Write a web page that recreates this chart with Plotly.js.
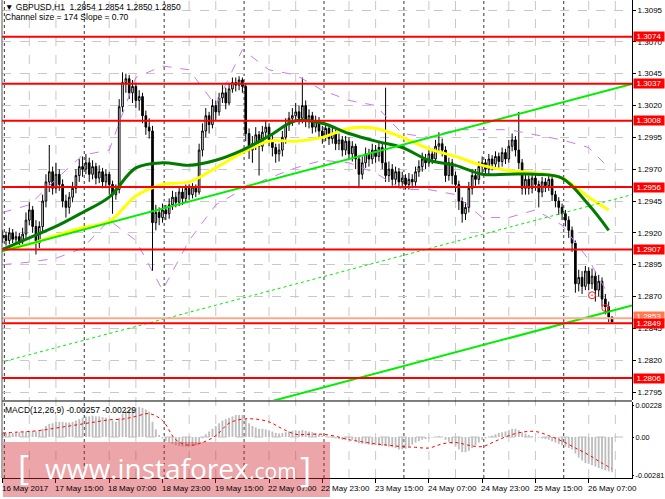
<!DOCTYPE html>
<html><head><meta charset="utf-8">
<script src="https://cdn.plot.ly/plotly-3.0.1.min.js"></script>
<style>html,body{margin:0;padding:0;background:#fff;}#chart{width:665px;height:499px;}</style>
</head><body><div id="chart"></div>
<script>
// ---- data (GBPUSD H1, 16 May 23:00 .. 26 May 14:00) ----
const firstOpen = 1.2916;
const closes = [
1.2918,1.2914,1.2920,1.2915,1.2917,1.2913,1.2919,1.2930,
1.2938,1.2925,1.2912,1.2925,1.2945,1.2960,1.2968,1.2955,
1.2966,1.2958,1.2945,1.2940,1.2948,1.2955,1.2965,1.2972,
1.2970,1.2975,1.2966,1.2972,1.2963,1.2968,1.2960,1.2966,
1.2958,1.2950,1.2954,1.3019,1.3038,1.3041,1.3030,1.3035,
1.3024,1.3027,1.3012,1.3003,1.3000,1.2928,1.2936,1.2932,
1.2938,1.2935,1.2942,1.2948,1.2944,1.2952,1.2947,1.2955,
1.2950,1.2956,1.2952,1.2985,1.3000,1.3012,1.3005,1.3020,
1.3015,1.3026,1.3030,1.3022,1.3033,1.3038,1.3036,1.3040,
1.3035,1.2998,1.2985,1.2990,1.2997,1.2988,1.2999,1.3003,
1.2993,1.2987,1.2982,1.2985,1.2995,1.3005,1.3010,1.3012,
1.3015,1.3010,1.3020,1.3008,1.3012,1.3003,1.3008,1.3000,
1.2996,1.3002,1.2994,1.2998,1.2990,1.2993,1.2985,1.2992,
1.2982,1.2988,1.2978,1.2966,1.2975,1.2982,1.2978,1.2985,
1.2980,1.2987,1.2975,1.2965,1.2970,1.2962,1.2968,1.2960,
1.2963,1.2958,1.2962,1.2960,1.2968,1.2972,1.2978,1.2975,
1.2982,1.2978,1.2988,1.2990,1.2985,1.2965,1.2975,1.2965,
1.2958,1.2945,1.2935,1.2940,1.2955,1.2965,1.2962,1.2972,
1.2975,1.2970,1.2978,1.2974,1.2980,1.2976,1.2983,1.2978,
1.2988,1.2993,1.2985,1.2975,1.2955,1.2962,1.2955,1.2963,
1.2958,1.2952,1.2960,1.2957,1.2962,1.2950,1.2945,1.2940,
1.2935,1.2930,1.2922,1.2912,1.2880,1.2885,1.2878,1.2890,
1.2880,1.2886,1.2875,1.2882,1.2868,1.2862,1.2854,1.2850];
const highs = [
1.2922,1.2921,1.2924,1.2923,1.2921,1.2920,1.2924,1.2936,
1.2944,1.2941,1.2930,1.2929,1.2950,1.2966,1.2989,1.2972,
1.2975,1.2970,1.2962,1.2950,1.2952,1.2960,1.2970,1.2978,
1.2980,1.2982,1.2979,1.2977,1.2975,1.2973,1.2971,1.2970,
1.2968,1.2961,1.2958,1.3025,1.3046,1.3045,1.3044,1.3040,
1.3038,1.3032,1.3030,1.3016,1.3010,1.3004,1.2942,1.2940,
1.2943,1.2942,1.2947,1.2953,1.2952,1.2956,1.2955,1.2958,
1.2958,1.2959,1.2958,1.2990,1.3006,1.3018,1.3015,1.3025,
1.3024,1.3030,1.3036,1.3034,1.3038,1.3042,1.3042,1.3043,
1.3042,1.3037,1.3002,1.2996,1.3003,1.3000,1.3004,1.3008,
1.3006,1.2997,1.2990,1.2990,1.3000,1.3010,1.3015,1.3018,
1.3022,1.3020,1.3042,1.3024,1.3017,1.3015,1.3012,1.3011,
1.3004,1.3006,1.3005,1.3003,1.3001,1.2998,1.2996,1.2996,
1.2995,1.2992,1.2990,1.2981,1.2980,1.2987,1.2986,1.2990,
1.2989,1.2991,1.2990,1.3034,1.2976,1.2974,1.2972,1.2971,
1.2968,1.2966,1.2967,1.2966,1.2972,1.2977,1.2983,1.2982,
1.2987,1.2986,1.2993,1.2999,1.2994,1.2988,1.2979,1.2978,
1.2968,1.2961,1.2948,1.2944,1.2960,1.2970,1.2970,1.2976,
1.2980,1.2978,1.2982,1.2981,1.2984,1.2983,1.2987,1.2986,
1.2993,1.2998,1.2996,1.3015,1.2978,1.2966,1.2965,1.2967,
1.2966,1.2961,1.2964,1.2963,1.2966,1.2964,1.2953,1.2948,
1.2943,1.2938,1.2933,1.2925,1.2914,1.2891,1.2890,1.2894,
1.2893,1.2892,1.2890,1.2887,1.2885,1.2872,1.2866,1.2854];
const lows = [
1.2912,1.2910,1.2911,1.2912,1.2911,1.2909,1.2911,1.2916,
1.2926,1.2920,1.2903,1.2908,1.2921,1.2940,1.2952,1.2950,
1.2951,1.2953,1.2940,1.2932,1.2935,1.2944,1.2951,1.2960,
1.2964,1.2966,1.2960,1.2962,1.2958,1.2959,1.2955,1.2955,
1.2950,1.2935,1.2946,1.2951,1.3015,1.3030,1.3025,1.3022,
1.3018,1.3016,1.3006,1.2997,1.2994,1.2890,1.2922,1.2926,
1.2928,1.2930,1.2931,1.2938,1.2940,1.2941,1.2942,1.2944,
1.2946,1.2947,1.2948,1.2950,1.2980,1.2995,1.2998,1.3002,
1.3008,1.3012,1.3022,1.3017,1.3020,1.3030,1.3031,1.3032,
1.3030,1.2992,1.2978,1.2975,1.2985,1.2965,1.2984,1.2994,
1.2988,1.2980,1.2975,1.2976,1.2980,1.2990,1.3000,1.3004,
1.3007,1.3005,1.3006,1.3003,1.3002,1.2998,1.2999,1.2995,
1.2990,1.2992,1.2989,1.2990,1.2985,1.2985,1.2980,1.2981,
1.2977,1.2976,1.2970,1.2955,1.2962,1.2971,1.2972,1.2974,
1.2975,1.2976,1.2970,1.2960,1.2960,1.2957,1.2958,1.2955,
1.2955,1.2954,1.2954,1.2955,1.2957,1.2964,1.2968,1.2970,
1.2972,1.2974,1.2975,1.2983,1.2980,1.2960,1.2961,1.2958,
1.2952,1.2938,1.2928,1.2930,1.2936,1.2950,1.2957,1.2958,
1.2967,1.2965,1.2966,1.2969,1.2970,1.2971,1.2972,1.2974,
1.2975,1.2984,1.2980,1.2970,1.2950,1.2950,1.2950,1.2951,
1.2953,1.2940,1.2948,1.2952,1.2953,1.2945,1.2940,1.2934,
1.2930,1.2925,1.2916,1.2905,1.2873,1.2874,1.2872,1.2875,
1.2875,1.2876,1.2866,1.2870,1.2862,1.2856,1.2850,1.2850];

// moving averages and envelope bands, sampled every 8 bars
const lineIdx   = [0,8,16,24,32,40,48,56,64,72,80,88,96,104,112,120,128,136,144,152,160,168,176,182];
const greenMA   = [1.2907,1.2916,1.2925,1.2936,1.2948,1.2971,1.2975,1.2973,1.2977,1.2985,1.2996,1.3008,1.3006,1.2998,1.2992,1.2987,1.2977,1.2973,1.2966,1.2966,1.2966,1.2963,1.2942,1.2922];
const yellowMA  = [1.2907,1.2911,1.2918,1.2924,1.2929,1.2949,1.2958,1.2960,1.2971,1.2983,1.2992,1.2992,1.2995,1.3002,1.3002,1.2995,1.2986,1.2980,1.2973,1.2969,1.2967,1.2963,1.2948,1.2938];
const upperBand = [1.2936,1.2942,1.2962,1.2981,1.2985,1.3042,1.3051,1.3048,1.3020,1.3064,1.3048,1.3044,1.3032,1.3024,1.3020,1.2998,1.2995,1.3001,1.3001,1.3001,1.2997,1.2993,1.2987,1.2971];
const lowerBand = [1.2895,1.2897,1.2900,1.2908,1.2930,1.2914,1.2875,1.2914,1.2942,1.2954,1.2963,1.2971,1.2977,1.2975,1.2967,1.2954,1.2954,1.2950,1.2932,1.2932,1.2938,1.2926,1.2899,1.2871];

// regression channel (Channel size = 174, Slope = 0.70)
const channelIdx = [-1, 189];
const channelUpper = [1.2905, 1.3037];
const channelMid   = [1.2818, 1.2950];
const channelLower = [1.2731, 1.2863];

// horizontal levels
const redLevels = [1.3074, 1.3037, 1.3008, 1.2956, 1.2907, 1.2849, 1.2806];
const salmonLevel = 1.2853;

// signal circles
const circIdx = [177, 181];
const circPrice = [1.2871, 1.2861];

// MACD(12,26,9)
const macdHist = [
0.00030,0.00030,0.00030,0.00030,0.00035,0.00035,0.00035,0.00040,
0.00045,0.00045,0.00040,0.00045,0.00060,0.00080,0.00095,0.00100,
0.00110,0.00110,0.00110,0.00105,0.00105,0.00110,0.00120,0.00130,
0.00140,0.00150,0.00150,0.00155,0.00150,0.00150,0.00145,0.00140,
0.00130,0.00120,0.00110,0.00140,0.00170,0.00190,0.00200,0.00210,
0.00215,0.00218,0.00212,0.00200,0.00185,0.00110,0.00055,0.00015,
-0.00010,-0.00030,-0.00040,-0.00050,-0.00060,-0.00065,-0.00070,-0.00070,
-0.00070,-0.00065,-0.00060,-0.00040,-0.00010,0.00020,0.00040,0.00060,
0.00080,0.00100,0.00120,0.00130,0.00140,0.00150,0.00160,0.00160,
0.00160,0.00130,0.00100,0.00080,0.00070,0.00060,0.00060,0.00055,
0.00050,0.00040,0.00030,0.00025,0.00030,0.00035,0.00040,0.00045,
0.00050,0.00045,0.00050,0.00045,0.00040,0.00035,0.00030,0.00020,
0.00010,0.00005,0.00000,-0.00005,-0.00010,-0.00015,-0.00020,-0.00020,
-0.00010,-0.00020,-0.00030,-0.00045,-0.00050,-0.00050,-0.00055,-0.00060,
-0.00060,-0.00060,-0.00065,-0.00065,-0.00070,-0.00075,-0.00080,-0.00090,
-0.00090,-0.00085,-0.00070,-0.00055,-0.00040,-0.00030,-0.00020,-0.00015,
-0.00010,-0.00005,0.00000,0.00005,0.00000,-0.00020,-0.00035,-0.00050,
-0.00070,-0.00090,-0.00110,-0.00110,-0.00100,-0.00080,-0.00060,-0.00040,
-0.00020,-0.00010,0.00000,0.00010,0.00020,0.00030,0.00035,0.00040,
0.00050,0.00060,0.00060,0.00050,0.00035,0.00025,0.00015,0.00005,
0.00000,-0.00005,-0.00010,-0.00015,-0.00020,-0.00030,-0.00040,-0.00050,
-0.00060,-0.00070,-0.00080,-0.00090,-0.00120,-0.00150,-0.00170,-0.00190,
-0.00195,-0.00205,-0.00215,-0.00225,-0.00235,-0.00243,-0.00250,-0.00257];
const sigIdx = [0,4,8,12,16,20,24,28,32,36,40,44,48,52,56,60,64,68,72,76,80,84,88,92,96,100,104,108,112,116,120,124,128,132,136,140,144,148,152,156,160,164,168,172,176,180,183];
const sigVal = [0.0003,0.00035,0.0004,0.0005,0.00065,0.0008,0.00095,0.0011,0.00125,0.0013,0.0015,0.0017,0.0012,-0.0002,-0.0006,-0.0004,0.0001,0.0010,0.0013,0.0013,
0.0011,0.0006,0.0002,0.0002,0.0002,0.00005,-0.0002,-0.00035,-0.0005,-0.0006,-0.0007,-0.00075,-0.0008,-0.0005,-0.0004,-0.0006,-0.0007,-0.0003,0.0001,0.00035,
0.0004,0.0001,-0.0003,-0.0008,-0.0013,-0.0019,-0.0023];

// axis labels
const timeIdx = [0,16,32,48,64,80,96,112,128,144,160,176];
const timeLabels = ['16 May 2017','17 May 15:00','18 May 07:00','18 May 23:00','19 May 15:00','22 May 07:00','22 May 23:00','23 May 15:00','24 May 07:00','24 May 23:00','25 May 15:00','26 May 07:00'];
const priceTicks = [1.3095,1.3070,1.3045,1.3020,1.2995,1.2970,1.2945,1.2920,1.2895,1.2870,1.2845,1.2820,1.2795];
const macdTicks = [0.00228, 0, -0.00281];
const macdTickText = ['0.00228','0.00','-0.00281'];
const gridIdx = [8,16,32,40,56,64,80,88,104,112,128,136,152,160,176,184];
const daySepIdx = [0.5,24.5,48.5,72.5,96.5,120.5,144.5,168.5];

// ---- build ----
const idx = closes.map((_, k) => k);
const opens = closes.map((c, k) => k === 0 ? firstOpen : closes[k - 1]);
const FONT = 'Liberation Sans, Arial, sans-serif';
const FS = 8;

const traces = [
  {type:'candlestick', x: idx, open: opens, high: highs, low: lows, close: closes,
   increasing:{line:{color:'#000', width:1}, fillcolor:'#ffffff'},
   decreasing:{line:{color:'#000', width:1}, fillcolor:'#000000'},
   whiskerwidth:0, hoverinfo:'skip', xaxis:'x', yaxis:'y', showlegend:false},
  {type:'scatter', mode:'lines', x: lineIdx, y: upperBand, line:{color:'#C77DEB', width:1, dash:'dash'}, xaxis:'x', yaxis:'y', showlegend:false},
  {type:'scatter', mode:'lines', x: lineIdx, y: lowerBand, line:{color:'#C77DEB', width:1, dash:'dash'}, xaxis:'x', yaxis:'y', showlegend:false},
  {type:'scatter', mode:'lines', x: lineIdx, y: yellowMA, line:{color:'#FFFF00', width:3, shape:'spline'}, xaxis:'x', yaxis:'y', showlegend:false},
  {type:'scatter', mode:'lines', x: lineIdx, y: greenMA, line:{color:'#007A00', width:3, shape:'spline'}, xaxis:'x', yaxis:'y', showlegend:false},
  {type:'scatter', mode:'lines', x: channelIdx, y: channelUpper, line:{color:'#00EE00', width:2}, xaxis:'x', yaxis:'y', showlegend:false},
  {type:'scatter', mode:'lines', x: channelIdx, y: channelMid, line:{color:'#00EE00', width:1, dash:'dot'}, xaxis:'x', yaxis:'y', showlegend:false},
  {type:'scatter', mode:'lines', x: channelIdx, y: channelLower, line:{color:'#00EE00', width:2}, xaxis:'x', yaxis:'y', showlegend:false},
  {type:'scatter', mode:'markers', x: circIdx, y: circPrice, marker:{symbol:'circle-open-dot', size:7, color:'#FF2020', line:{width:1}}, xaxis:'x', yaxis:'y', showlegend:false},
  {type:'bar', x: idx, y: macdHist, width:0.55, marker:{color:'#BDBDBD', line:{width:0}}, xaxis:'x', yaxis:'y2', showlegend:false, hoverinfo:'skip'},
  {type:'scatter', mode:'lines', x: sigIdx, y: sigVal, line:{color:'#FF0000', width:1, dash:'dot', shape:'spline'}, xaxis:'x', yaxis:'y2', showlegend:false}
];

const shapes = [];
gridIdx.forEach(g => shapes.push({type:'line', xref:'x', yref:'paper', x0:g, x1:g, y0:0, y1:1, layer:'below', line:{color:'#C8C8C8', width:1, dash:'dash'}}));
daySepIdx.forEach(g => shapes.push({type:'line', xref:'x', yref:'paper', x0:g, x1:g, y0:0, y1:1, layer:'below', line:{color:'#333333', width:1, dash:'dot'}}));
shapes.push({type:'line', xref:'paper', yref:'y', x0:0, x1:1, y0:salmonLevel, y1:salmonLevel, layer:'above', line:{color:'#FFA98A', width:2}});
redLevels.forEach(v => shapes.push({type:'line', xref:'paper', yref:'y', x0:0, x1:1, y0:v, y1:v, layer:'above', line:{color:'#FF0000', width:2}}));
shapes.push({type:'line', xref:'paper', yref:'y2', x0:0, x1:1, y0:0, y1:0, layer:'below', line:{color:'#C0C0C0', width:1, dash:'dash'}});
shapes.push({type:'line', xref:'paper', yref:'paper', x0:0, x1:1, y0:0.1611, y1:0.1611, line:{color:'#000', width:1}});
shapes.push({type:'line', xref:'paper', yref:'paper', x0:0, x1:0, y0:0, y1:1, line:{color:'#555', width:1}});
// watermark box
shapes.push({type:'rect', xref:'paper', yref:'paper', x0:0.0016, x1:0.5206, y0:0.0753, y1:-0.0397, layer:'above', fillcolor:'rgba(210,40,50,0.42)', line:{width:0}});

const annotations = [];
timeIdx.forEach((t, k) => annotations.push({xref:'x', yref:'paper', x:t, y:-0.021, xanchor:'left', yanchor:'middle', xshift:-2, borderpad:0, text:timeLabels[k], showarrow:false, font:{family:FONT, size:FS, color:'#000'}}));
annotations.push({xref:'paper', yref:'paper', x:0.001, y:0.986, xanchor:'left', yanchor:'middle', text:'\u25BC GBPUSD,H1  1.2854 1.2854 1.2850 1.2850', showarrow:false, font:{family:FONT, size:8.5, color:'#000'}});
annotations.push({xref:'paper', yref:'paper', x:0.001, y:0.965, xanchor:'left', yanchor:'middle', text:'Channel size = 174 Slope = 0.70', showarrow:false, font:{family:FONT, size:8.5, color:'#000'}});
annotations.push({xref:'paper', yref:'paper', x:0.001, y:0.1423, xanchor:'left', yanchor:'middle', text:'MACD(12,26,9) -0.00257 -0.00229', showarrow:false, font:{family:FONT, size:8.5, color:'#000'}});
annotations.push({xref:'paper', yref:'y', x:1, y:salmonLevel, xanchor:'left', yanchor:'middle', xshift:1, yshift:2, text:salmonLevel.toFixed(4), showarrow:false, bgcolor:'#FF7A50', width:30, height:9, borderpad:0, font:{family:FONT, size:FS, color:'#fff'}});
redLevels.forEach(v => annotations.push({xref:'paper', yref:'y', x:1, y:v, xanchor:'left', yanchor:'middle', xshift:1, text:v.toFixed(4), showarrow:false, bgcolor:'#FF0000', width:30, height:9, borderpad:0, font:{family:FONT, size:FS, color:'#fff'}}));
// watermark text
const WM = 'Open Sans, DejaVu Sans, sans-serif';
annotations.push({xref:'paper', yref:'paper', x:0.0341, y:0.023, xanchor:'center', yanchor:'middle', text:'[', showarrow:false, font:{family:WM, size:34, color:'#fff'}});
annotations.push({xref:'paper', yref:'paper', x:0.0651, y:0.021, xanchor:'left', yanchor:'middle', text:'www.instaforex', showarrow:false, font:{family:WM, size:28, color:'#fff'}});
annotations.push({xref:'paper', yref:'paper', x:0.3889, y:0.0146, xanchor:'left', yanchor:'middle', text:'.com', showarrow:false, font:{family:WM, size:21, color:'#fff'}});
annotations.push({xref:'paper', yref:'paper', x:0.481, y:0.0188, xanchor:'center', yanchor:'middle', text:']', showarrow:false, font:{family:WM, size:34, color:'#fff'}});

const layout = {
  width:665, height:499,
  margin:{l:2, r:33, t:0, b:21, pad:0},
  paper_bgcolor:'#ffffff', plot_bgcolor:'#ffffff',
  showlegend:false, hovermode:false, dragmode:false,
  xaxis:{range:[-0.2, 189], anchor:'y2', domain:[0,1], rangeslider:{visible:false},
         showgrid:false, zeroline:false, showline:true, linecolor:'#000', linewidth:1,
         tickmode:'array', tickvals:timeIdx, ticks:'outside', ticklen:4, tickcolor:'#000', showticklabels:false, fixedrange:true},
  yaxis:{domain:[0.16318,1], range:[1.278873, 1.310285], side:'right', anchor:'x',
         tickmode:'array', tickvals:priceTicks, ticktext:priceTicks.map(v => v.toFixed(4)),
         ticks:'outside', ticklen:3, tickcolor:'#000', showline:true, linecolor:'#000', linewidth:1,
         showgrid:true, gridcolor:'#C8C8C8', griddash:'dash', gridwidth:1, zeroline:false,
         tickfont:{family:FONT, size:FS, color:'#000'}, fixedrange:true},
  yaxis2:{domain:[0,0.159], range:[-0.00298, 0.002545], side:'right', anchor:'x',
         tickmode:'array', tickvals:macdTicks, ticktext:macdTickText,
         ticks:'outside', ticklen:1, tickcolor:'#000', showline:true, linecolor:'#000', linewidth:1,
         showgrid:false, zeroline:false, tickfont:{family:FONT, size:7.3, color:'#000'}, fixedrange:true},
  shapes: shapes,
  annotations: annotations
};

Plotly.newPlot('chart', traces, layout, {displayModeBar:false, staticPlot:true});
</script>
</body></html>
